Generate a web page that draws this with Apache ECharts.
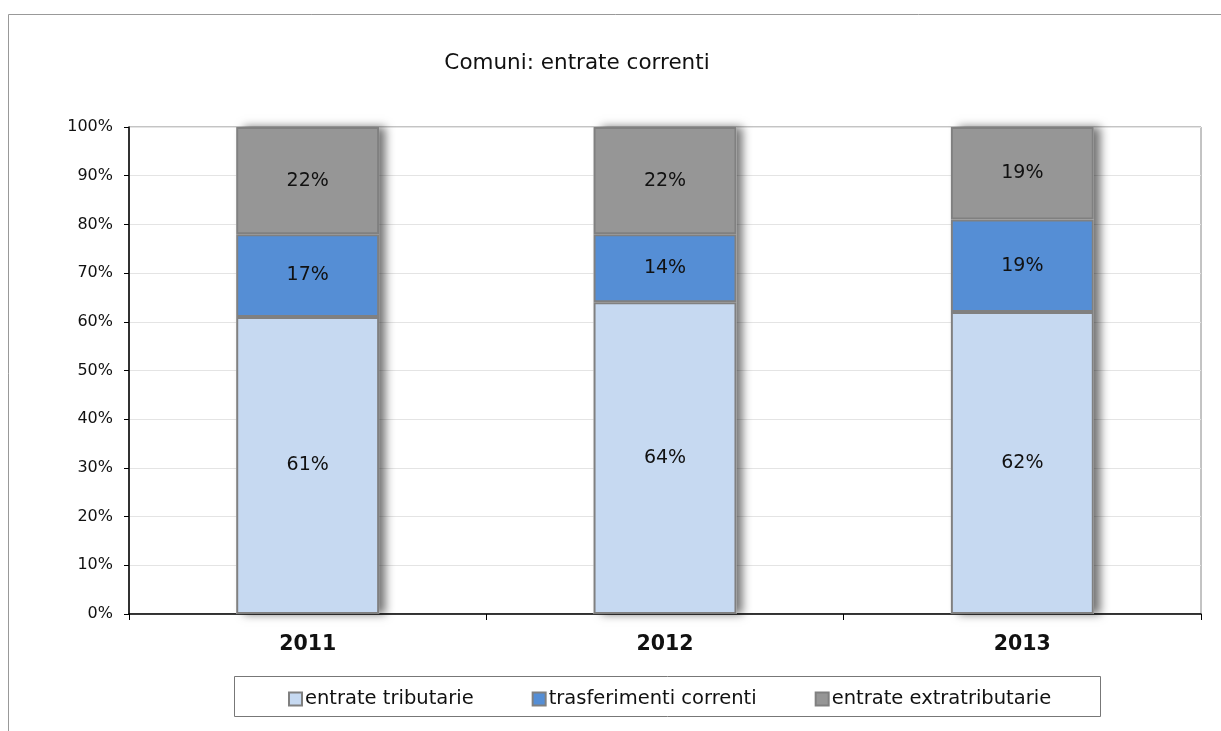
<!DOCTYPE html>
<html><head><meta charset="utf-8">
<script src="https://cdn.jsdelivr.net/npm/echarts@6/dist/echarts.min.js"></script>
<style>html,body{margin:0;padding:0;background:#fff}#c{width:1221px;height:731px}</style>
</head><body><div id="c"></div>
<script>
const categories = ['2011', '2012', '2013'];
const tributarie = [61, 64, 62];
const trasferimenti = [17, 14, 19];
const extratributarie = [22, 22, 19];
const seriesNames = ['entrate tributarie', 'trasferimenti correnti', 'entrate extratributarie'];
const colors = ['#C6D9F1', '#558ED5', '#969696'];

const totals = categories.map((c, i) => tributarie[i] + trasferimenti[i] + extratributarie[i]);
const chart = echarts.init(document.getElementById('c'), null, {renderer: 'canvas'});
const font = 'DejaVu Sans, Verdana, sans-serif';
function mk(name, data, color) {
  return {
    name: name, type: 'bar', stack: 'total', data: data, barWidth: '40%', barGap: '-100%', z: 3,
    itemStyle: {color: color, borderColor: '#808080', borderWidth: 2},
    label: {show: true, position: 'inside', formatter: p => p.value + '%',
      color: '#111', fontSize: 19, fontFamily: font},
    emphasis: {disabled: true}
  };
}
chart.setOption({
  animation: false,
  title: {text: 'Comuni: entrate correnti', left: 572, textAlign: 'center', top: 47,
    textStyle: {fontSize: 21.5, fontWeight: 'normal', color: '#111', fontFamily: font}},
  graphic: [
    {type: 'rect', shape: {x: 8.5, y: 14.5, width: 1240, height: 760}, style: {fill: 'none', stroke: '#999', lineWidth: 1}, z: -10},
    {type: 'rect', shape: {x: 234.5, y: 676.5, width: 866, height: 40}, style: {fill: '#fff', stroke: '#777', lineWidth: 1}, z: -5}
  ],
  legend: {
    data: seriesNames, left: 283, top: 684, itemWidth: 13, itemHeight: 13, itemGap: 58,
    icon: 'rect',
    itemStyle: {borderColor: '#808080', borderWidth: 2},
    textStyle: {fontSize: 19.5, color: '#111', fontFamily: font, padding: [0, 0, 0, -2]}
  },
  grid: {left: 129, right: 20, top: 127, bottom: 117, show: true, borderColor: '#888', borderWidth: 1},
  xAxis: {
    type: 'category', data: categories,
    axisLine: {lineStyle: {color: '#000', width: 1.5}},
    axisTick: {show: true, length: 6, lineStyle: {color: '#000'}},
    axisLabel: {fontSize: 20.5, fontWeight: 'bold', color: '#111', fontFamily: font, margin: 20}
  },
  yAxis: {
    type: 'value', min: 0, max: 100, interval: 10,
    axisLine: {show: true, lineStyle: {color: '#000', width: 1.5}},
    axisTick: {show: true, length: 5, lineStyle: {color: '#000'}},
    axisLabel: {formatter: '{value}%', fontSize: 16, color: '#111', fontFamily: font, margin: 16},
    splitLine: {lineStyle: {color: '#e4e4e4'}}
  },
  series: [
    {name: 'shadow', type: 'bar', data: totals, barWidth: '40%', z: 1, silent: true,
      itemStyle: {color: '#fff', shadowColor: 'rgba(0,0,0,0.55)', shadowBlur: 9, shadowOffsetX: 7, shadowOffsetY: 0},
      label: {show: false}, emphasis: {disabled: true}, tooltip: {show: false}},
    mk(seriesNames[0], tributarie, colors[0]), mk(seriesNames[1], trasferimenti, colors[1]), mk(seriesNames[2], extratributarie, colors[2])
  ]
});
</script></body></html>
